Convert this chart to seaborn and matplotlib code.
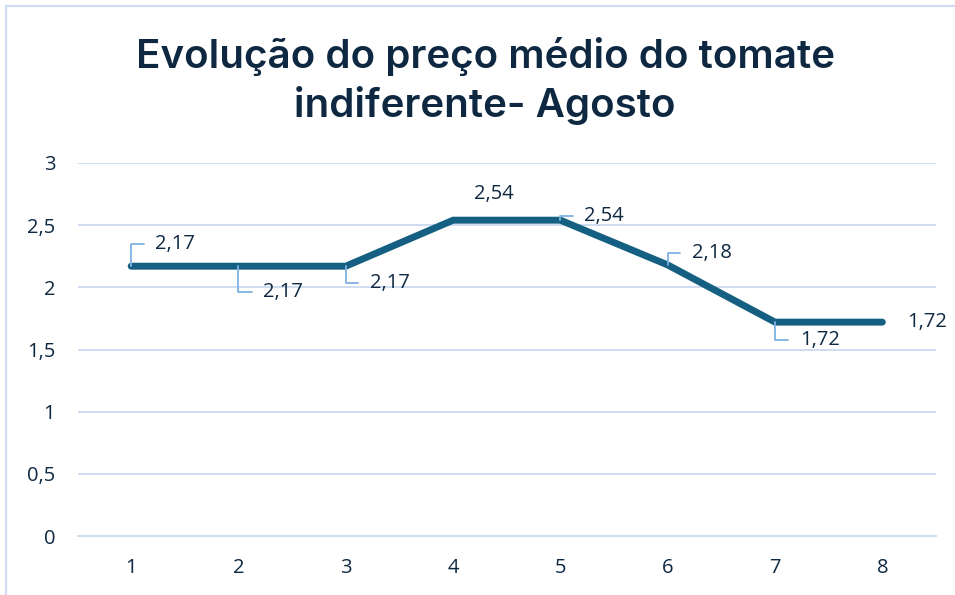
import numpy as np
import pandas as pd
import seaborn as sns
import matplotlib.pyplot as plt
from matplotlib.lines import Line2D

# Data
categorias = ["1", "2", "3", "4", "5", "6", "7", "8"]
precos = [2.17, 2.17, 2.17, 2.54, 2.54, 2.18, 1.72, 1.72]
rotulos = ["2,17", "2,17", "2,17", "2,54", "2,54", "2,18", "1,72", "1,72"]
y_ticks = [0, 0.5, 1, 1.5, 2, 2.5, 3]
y_tick_labels = ["0", "0,5", "1", "1,5", "2", "2,5", "3"]
titulo = "Evolução do preço médio do tomate\nindiferente- Agosto"

# label offsets in pixels (dx, dy) and whether Excel drew a leader line
label_offsets = [(24, 22), (25, -26), (24, -17), (21, 26), (24, 4), (24, 12), (25, -18), (25, 0)]
leaders = [True, True, True, False, True, True, True, False]

df = pd.DataFrame({"Dia": categorias, "Preco": precos})

sns.set_theme(style="white")
plt.rcParams["font.family"] = ["Open Sans", "DejaVu Sans"]

navy = "#0E2841"
line_col = "#156082"
grid_col = "#CFDDF0"
leader_col = "#7FB2E3"

fig = plt.figure(figsize=(9.55, 5.95), dpi=100)
ax = fig.add_axes([77.5 / 955, 1 - 536 / 595, (936 - 77.5) / 955, (536 - 163) / 595])

sns.lineplot(data=df, x="Dia", y="Preco", ax=ax, color=line_col, linewidth=5,
             solid_capstyle="round", solid_joinstyle="miter", sort=False)

ax.set_xlim(-0.5, len(categorias) - 0.5)
ax.set_ylim(0, 3)
ax.set_yticks(y_ticks)
ax.set_yticklabels(y_tick_labels)
ax.set_xlabel("")
ax.set_ylabel("")

for s in ["top", "right", "left"]:
    ax.spines[s].set_visible(False)
ax.spines["bottom"].set_color(grid_col)
ax.spines["bottom"].set_linewidth(1.4)

ax.yaxis.grid(True, color=grid_col, linewidth=1.4)
ax.set_axisbelow(True)

ax.tick_params(axis="y", length=0, pad=16, labelsize=14.5, labelcolor=navy)
ax.tick_params(axis="x", which="major", length=0, pad=16, labelsize=14.5, labelcolor=navy)
ax.set_xticks(np.arange(-0.5, len(categorias), 1.0), minor=True)
ax.tick_params(axis="x", which="minor", length=6, width=1.4, color=grid_col)

# data labels
for i, (v, txt) in enumerate(zip(precos, rotulos)):
    dx, dy = label_offsets[i]
    if leaders[i]:
        ax.annotate(txt, xy=(i, v), xytext=(dx, dy), textcoords="offset pixels",
                    ha="left", va="center", fontsize=14.5, color=navy,
                    arrowprops=dict(arrowstyle="-", color=leader_col, lw=1.3,
                                    connectionstyle="angle,angleA=0,angleB=90,rad=0",
                                    relpos=(0, 0.5), shrinkA=6, shrinkB=0))
    else:
        ax.annotate(txt, xy=(i, v), xytext=(dx, dy), textcoords="offset pixels",
                    ha="left", va="center", fontsize=14.5, color=navy)

# title
fig.text(485 / 955, 1 - 81 / 595, titulo, ha="center", va="center", fontsize=29,
         fontweight="semibold", color=navy, linespacing=1.3,
         family=["Inter", "DejaVu Sans"])

# chart border (top and left visible in the crop)
fig.add_artist(Line2D([6 / 955, 6 / 955], [0, 1 - 6 / 595], color=grid_col, lw=1.6))
fig.add_artist(Line2D([6 / 955, 1], [1 - 6 / 595, 1 - 6 / 595], color=grid_col, lw=1.6))

fig.savefig("out.png", dpi=100, facecolor="white")
